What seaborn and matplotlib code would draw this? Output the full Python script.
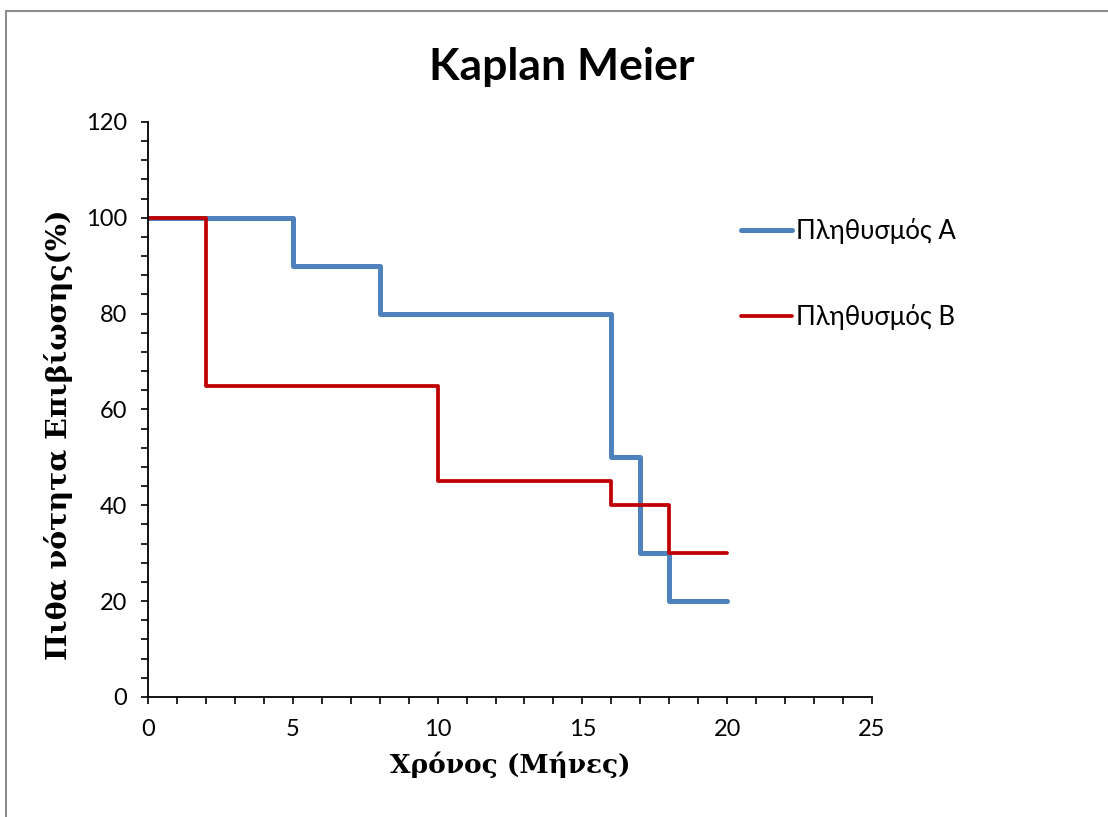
import matplotlib
matplotlib.use('Agg')
import matplotlib.pyplot as plt
import seaborn as sns
import pandas as pd
from matplotlib.ticker import MultipleLocator
from matplotlib.patches import Rectangle

# Kaplan Meier step data (months, survival %)
time_a = [0, 5, 8, 16, 17, 18, 20]
surv_a = [100, 90, 80, 50, 30, 20, 20]
time_b = [0, 2, 10, 16, 18, 20]
surv_b = [100, 65, 45, 40, 30, 30]
label_a = 'Πληθυσμός Α'
label_b = 'Πληθυσμός Β'

sns.set_style('ticks')
plt.rcParams['font.family'] = ['Lato', 'Open Sans', 'DejaVu Sans']
plt.rcParams['text.color'] = 'black'
plt.rcParams['xtick.color'] = 'black'
plt.rcParams['ytick.color'] = 'black'
plt.rcParams['axes.labelcolor'] = 'black'

serif = ['DejaVu Serif', 'Liberation Serif']

fig = plt.figure(figsize=(11.08, 8.17), dpi=100)
ax = fig.add_axes([0.1336, 0.1469, 0.6534, 0.7038])

df_a = pd.DataFrame({'t': time_a, 's': surv_a})
df_b = pd.DataFrame({'t': time_b, 's': surv_b})
sns.lineplot(data=df_a, x='t', y='s', ax=ax, color='#4F81BD', lw=3.6,
             drawstyle='steps-post', label=label_a,
             solid_capstyle='round', solid_joinstyle='round')
sns.lineplot(data=df_b, x='t', y='s', ax=ax, color='#C00000', lw=2.7,
             drawstyle='steps-post', label=label_b,
             solid_capstyle='round', solid_joinstyle='round')

ax.set_xlim(0, 25)
ax.set_ylim(0, 120)
ax.xaxis.set_major_locator(MultipleLocator(5))
ax.xaxis.set_minor_locator(MultipleLocator(1))
ax.yaxis.set_major_locator(MultipleLocator(20))
ax.yaxis.set_minor_locator(MultipleLocator(4))
ax.tick_params(which='both', direction='out', length=5, width=1.2, color='black')
ax.tick_params(which='major', labelsize=17)
ax.tick_params(axis='x', which='major', pad=11)
ax.tick_params(axis='y', which='major', pad=10)
sns.despine(ax=ax)
for sp in ['left', 'bottom']:
    ax.spines[sp].set_linewidth(1.3)
    ax.spines[sp].set_color('black')

ax.set_xlabel('Χρόνος (Μήνες)', fontsize=19, fontweight='bold',
              family=serif, labelpad=8)
ax.set_ylabel('Πιθα νότητα Επιβίωσης(%)', fontsize=20.5, fontweight='bold',
              family=serif)
ax.yaxis.set_label_coords(-0.104, 0.456)

fig.text(0.507, 0.918, 'Kaplan Meier', ha='center', va='center',
         fontsize=32, fontweight='bold')

ax.get_legend().remove()
h, l = ax.get_legend_handles_labels()
fig.legend(h, l, loc='upper left', bbox_to_anchor=(0.648, 0.762),
           frameon=False, fontsize=18.5, handlelength=2.0, handletextpad=0.15,
           labelspacing=2.35)

fig.patches.append(Rectangle((0.0054, -0.1), 1.2, 0.9865 + 0.1,
                             transform=fig.transFigure, fill=False,
                             edgecolor='#8c8c8c', lw=1.5))

fig.savefig('out.png', dpi=100)
